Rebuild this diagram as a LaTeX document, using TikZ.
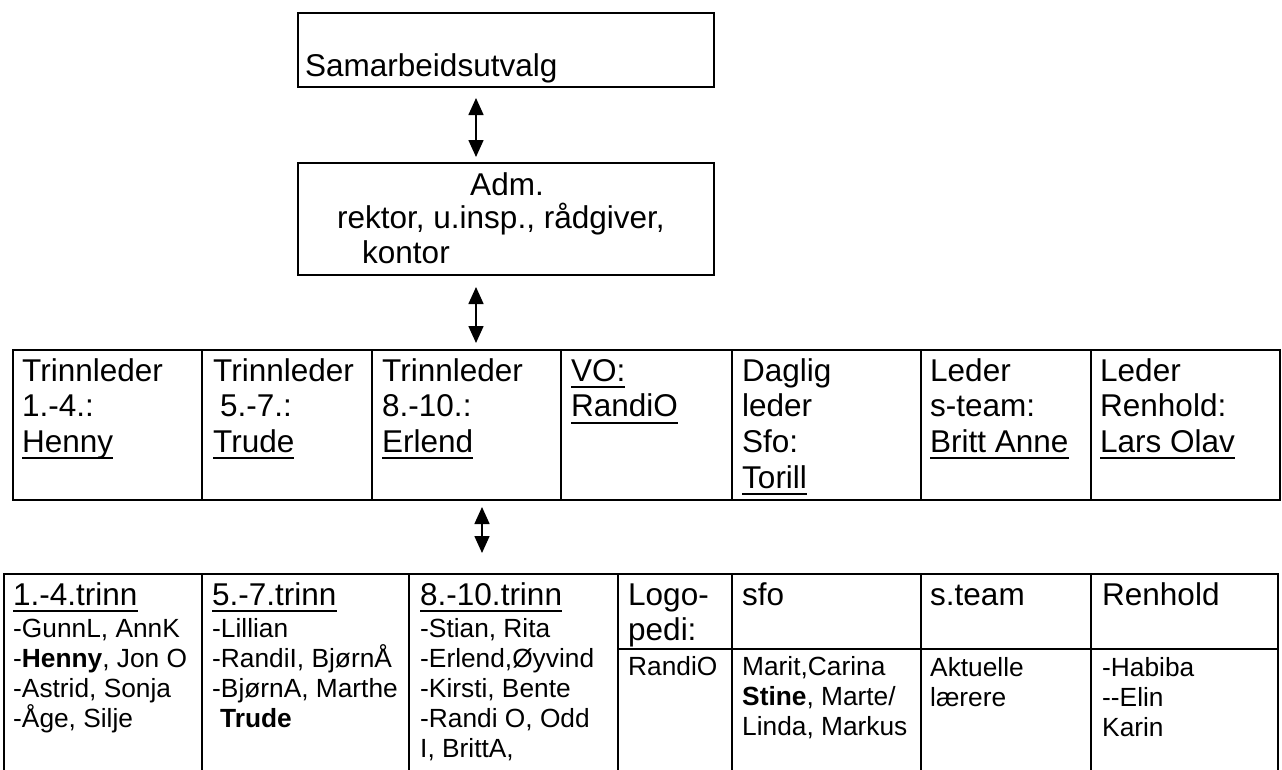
\documentclass[tikz,border=0pt]{standalone}
\usepackage{fontspec}
\setmainfont{Liberation Sans}
\usetikzlibrary{arrows.meta}
\newcommand\fL{\fontsize{31.5}{35.7}\selectfont}
\newcommand\fS{\fontsize{26.3}{30.2}\selectfont}
\newsavebox\ulbox
\newcommand\uln[1]{\sbox\ulbox{#1}\usebox\ulbox\llap{\rule[-7pt]{\wd\ulbox}{2pt}}}
\newcommand\stack[1]{\vtop{\lineskiplimit=-100pt\halign{##\hfil\cr#1\crcr}}}
\begin{document}
\begin{tikzpicture}[x=1pt,y=-1pt,
  box/.style={draw,line width=2pt,inner sep=0pt,anchor=north west},
  tbl/.style={line width=2pt},
  txt/.style={inner sep=0pt,anchor=base west},
  big/.style={font=\fL},
  small/.style={font=\fS},
  dbl/.style={line width=1.6pt,{Triangle[width=15pt,length=17pt]}-{Triangle[width=15pt,length=17pt]}}]
\useasboundingbox (0,0) rectangle (1282,769);
% top boxes
\node[box,minimum width=416pt,minimum height=74pt] (sam) at (297,12) {};
\node[txt,big] (samt) at (305,76) {Samarbeidsutvalg};
\node[box,minimum width=416pt,minimum height=112pt] (adm) at (297,162) {};
\node[inner sep=0pt,anchor=base,big] (admA) at (507,195) {Adm.};
\node[txt,big] (admB) at (337,228) {rektor, u.insp., rådgiver,};
\node[txt,big] (admC) at (362,263) {kontor};
% arrows
\coordinate (a1t) at (476,98); \coordinate (a1b) at (476,157);
\coordinate (a2t) at (476,287); \coordinate (a2b) at (476,343);
\coordinate (a3t) at (482,507); \coordinate (a3b) at (482,553);
\draw[dbl] (a1t) -- (a1b);
\draw[dbl] (a2t) -- (a2b);
\draw[dbl] (a3t) -- (a3b);
% middle table
\draw[tbl] (13,350) rectangle (1280,500);
\foreach \x in {202,372,561,732,921,1091} \draw[tbl] (\x,350) -- (\x,500);
\node[txt,big] (m1) at (22,381) {\stack{Trinnleder\cr 1.-4.:\cr \uln{Henny}}};
\node[txt,big] (m2) at (213,381) {\stack{Trinnleder\cr \hspace{7pt}5.-7.:\cr \uln{Trude}}};
\node[txt,big] (m3) at (382,381) {\stack{Trinnleder\cr 8.-10.:\cr \uln{Erlend}}};
\node[txt,big] (m4) at (571,381) {\stack{\uln{VO:}\cr \uln{RandiO}}};
\node[txt,big] (m5) at (742,381) {\stack{Daglig\cr leder\cr Sfo:\cr \uln{Torill}}};
\node[txt,big] (m6) at (930,381) {\stack{Leder\cr s-team:\cr \uln{Britt Anne}}};
\node[txt,big] (m7) at (1100,381) {\stack{Leder\cr Renhold:\cr \uln{Lars Olav}}};
% bottom table
\draw[tbl] (4,800) -- (4,574) -- (1278,574) -- (1278,800);
\foreach \x in {202,409,618,732,921,1091} \draw[tbl] (\x,574) -- (\x,800);
\draw[tbl] (618,649) -- (1278,649);
\node[txt,big] (h1) at (13,605) {\uln{1.-4.trinn}};
\node[txt,big] (h2) at (212,605) {\uln{5.-7.trinn}};
\node[txt,big] (h3) at (420,605) {\uln{8.-10.trinn}};
\node[txt,big] (h4) at (628,605) {\stack{Logo-\cr pedi:}};
\node[txt,big] (h5) at (742,605) {sfo};
\node[txt,big] (h6) at (930,605) {s.team};
\node[txt,big] (h7) at (1102,605) {Renhold};
\node[txt,small] (l1) at (13,637) {\stack{-GunnL, AnnK\cr -\textbf{Henny}, Jon O\cr -Astrid, Sonja\cr -Åge, Silje}};
\node[txt,small] (l2) at (212,637) {\stack{-Lillian\cr -RandiI, BjørnÅ\cr -BjørnA, Marthe\cr \hspace{8pt}\textbf{Trude}}};
\node[txt,small] (l3) at (420,637) {\stack{-Stian, Rita\cr -Erlend,Øyvind\cr -Kirsti, Bente\cr -Randi O, Odd\cr I, BrittA,}};
\node[txt,small] (l4) at (628,675) {RandiO};
\node[txt,small] (l5) at (742,675) {\stack{Marit,Carina\cr \textbf{Stine}, Marte/\cr Linda, Markus}};
\node[txt,small] (l6) at (930,676) {\stack{Aktuelle\cr lærere}};
\node[txt,small] (l7) at (1102,676) {\stack{-Habiba\cr -{}-Elin\cr Karin}};
\end{tikzpicture}
\end{document}
